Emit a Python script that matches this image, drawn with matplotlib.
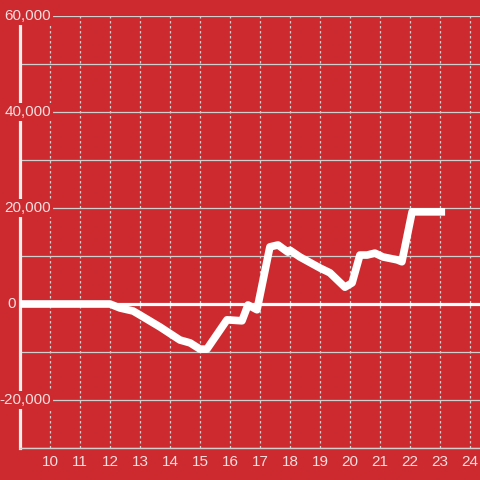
import matplotlib
matplotlib.use("Agg")
import matplotlib.pyplot as plt
from matplotlib.ticker import MultipleLocator

# data
xs = [8.9, 12.0, 12.33, 12.77, 13.0, 13.67, 14.33, 14.67, 15.0, 15.23, 15.9, 16.4,
      16.6, 16.9, 17.33, 17.6, 17.93, 18.0, 18.33, 19.0, 19.33, 19.83, 20.07, 20.33,
      20.57, 20.83, 21.1, 21.57, 21.73, 22.07, 23.17]
ys = [0, 0, -830, -1460, -2300, -4800, -7500, -8100, -9400, -9400, -3300, -3500,
      -200, -1200, 11900, 12300, 10800, 11200, 9800, 7500, 6500, 3500, 4400, 10200,
      10200, 10600, 9800, 9200, 8800, 19200, 19200]
x_ticks = list(range(10, 25))
y_tick_vals = [60000, 40000, 20000, 0, -20000]
y_tick_labels = ["60,000", "40,000", "20,000", "0", "-20,000"]

BG = "#cc2a2f"
TXT = "#f6dede"
GRID = "#cfcfcf"

plt.rcParams['font.family'] = ['Liberation Sans', 'DejaVu Sans']
fig = plt.figure(figsize=(4.8, 4.8), dpi=100, facecolor=BG)
ax = fig.add_axes([20/480, 32/480, 460/480, 432/480], facecolor=BG)
ax.set_xlim(9, 9 + 460/30)
ax.set_ylim(-30000, 60000)

for s in ['top', 'right']:
    ax.spines[s].set_visible(False)
ax.spines['bottom'].set_color(GRID)
ax.spines['bottom'].set_linewidth(1)
ax.spines['left'].set_color('#eeeeee')
ax.spines['left'].set_linewidth(2.3)

ax.set_xticks(x_ticks)
ax.set_xticklabels([str(v) for v in x_ticks])
ax.tick_params(axis='x', length=0, colors=TXT, labelsize=11, pad=5)
ax.set_yticks([])
ax.yaxis.set_minor_locator(MultipleLocator(10000))
ax.grid(which='minor', axis='y', color=GRID, linewidth=0.9)
ax.grid(which='major', axis='x', color=GRID, linewidth=0.9, linestyle=(0, (2, 2)))
ax.tick_params(axis='y', which='both', length=0)
ax.set_axisbelow(True)

ax.axhline(0, color='white', linewidth=2.3, zorder=2)
ax.plot(xs, ys, color='white', linewidth=5.5, solid_joinstyle='round',
        solid_capstyle='butt', zorder=3, clip_on=True)

for v, lab in zip(y_tick_vals, y_tick_labels):
    if v == 0:
        ax.text(8.87, v, lab, ha='right', va='center', color=TXT, fontsize=11,
                clip_on=False, zorder=5)
    else:
        ax.text(10.03, v, lab, ha='right', va='center', color=TXT, fontsize=11,
                clip_on=False, zorder=5,
                bbox=dict(facecolor=BG, edgecolor='none', pad=1.5))

fig.savefig("out.png", dpi=100, facecolor=BG)
